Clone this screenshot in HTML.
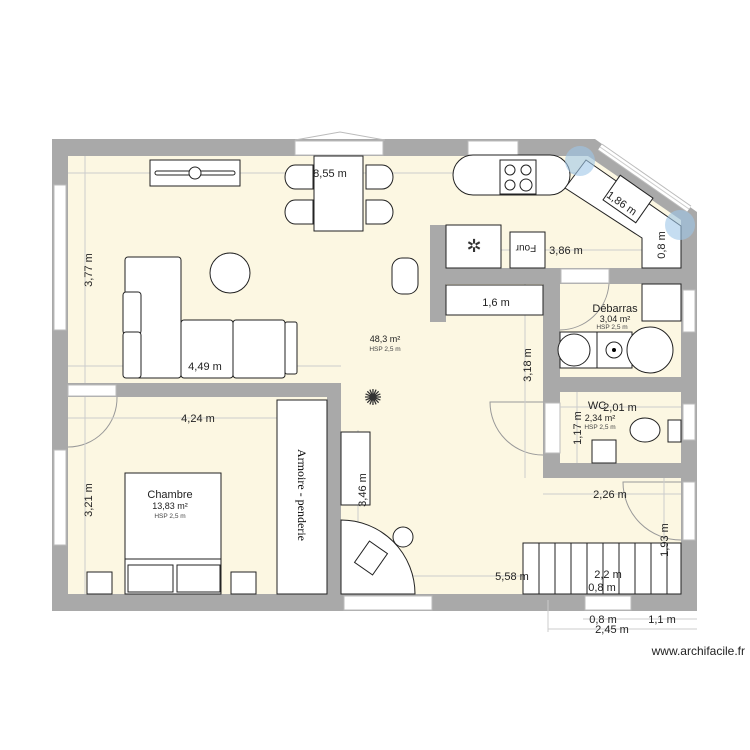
<!DOCTYPE html>
<html><head><meta charset="utf-8"><style>
body{margin:0;background:#fff;}
svg{display:block;font-family:"Liberation Sans",sans-serif;}
</style></head><body>
<svg width="750" height="750" viewBox="0 0 750 750" xmlns="http://www.w3.org/2000/svg">
<polygon points="52,139 595,139 697,212 697,611 52,611" fill="#a9a9a9"/>
<polygon points="68,156 588,156 681,220 681,594 68,594" fill="#fcf7e2"/>
<g fill="#a9a9a9">
<rect x="52" y="383" width="289" height="14"/>
<rect x="327" y="383" width="14" height="211"/>
<rect x="430" y="225" width="16" height="97"/>
<rect x="446" y="268" width="235" height="16"/>
<rect x="543" y="268" width="17" height="210"/>
<rect x="560" y="377" width="121" height="15"/>
<rect x="560" y="463" width="121" height="15"/>
</g>
<g fill="#fff" stroke="#bbb" stroke-width="1">
<rect x="295" y="141" width="88" height="14"/>
<rect x="468" y="141" width="50" height="14"/>
<rect x="54" y="185" width="12" height="145"/>
<rect x="54" y="450" width="12" height="95"/>
<rect x="68" y="385" width="48" height="11"/>
<rect x="344" y="596" width="88" height="14"/>
<rect x="585" y="596" width="46" height="14"/>
<rect x="683" y="290" width="12" height="42"/>
<rect x="683" y="404" width="12" height="36"/>
<rect x="683" y="482" width="12" height="58"/>
<rect x="561" y="269" width="48" height="14"/>
<rect x="545" y="403" width="15" height="50"/>
</g>
<polyline points="295,140 340,132 385,140" fill="none" stroke="#bbb"/>
<line x1="600" y1="147" x2="689" y2="209" stroke="#bbb" stroke-width="8"/>
<line x1="600" y1="147" x2="689" y2="209" stroke="#fff" stroke-width="6"/>
<line x1="600" y1="147" x2="689" y2="209" stroke="#ccc" stroke-width="1"/>
<g fill="none" stroke="#999" stroke-width="1">
<path d="M68,447 A49,49 0 0 0 117,397"/>
<path d="M543,455 A53,53 0 0 1 490,402 L543,402"/>
<path d="M560,330 A50,50 0 0 0 609,284"/>
<path d="M681,540 A58,58 0 0 1 623,482 L681,482"/>
</g>
<g stroke="#ccc" stroke-width="1" fill="none">
<line x1="68" y1="173" x2="588" y2="173"/>
<line x1="85" y1="156" x2="85" y2="383"/>
<line x1="68" y1="366" x2="341" y2="366"/>
<line x1="446" y1="250" x2="642" y2="250"/>
<line x1="446" y1="302" x2="543" y2="302"/>
<line x1="525" y1="284" x2="525" y2="478"/>
<line x1="68" y1="418" x2="327" y2="418"/>
<line x1="85" y1="397" x2="85" y2="594"/>
<line x1="358" y1="430" x2="358" y2="594"/>
<line x1="560" y1="407" x2="681" y2="407"/>
<line x1="577" y1="392" x2="577" y2="463"/>
<line x1="543" y1="494" x2="681" y2="494"/>
<line x1="664" y1="478" x2="664" y2="594"/>
<line x1="341" y1="576" x2="681" y2="576"/>
<line x1="583" y1="587" x2="632" y2="587"/>
<line x1="583" y1="619" x2="697" y2="619"/>
<line x1="548" y1="629" x2="697" y2="629"/>
<line x1="548" y1="600" x2="548" y2="632"/>
</g>
<g fill="#fff" stroke="#222" stroke-width="1">
<rect x="150" y="160" width="90" height="26"/>
<rect x="155" y="171" width="80" height="4" rx="2"/>
<circle cx="195" cy="173" r="6"/>
<rect x="314" y="156" width="49" height="75"/>
<path d="M313,165 L295,165 A10,12 0 0 0 295,189 L313,189 Z"/>
<path d="M313,200 L295,200 A10,12 0 0 0 295,224 L313,224 Z"/>
<path d="M366,165 L382,165 A11,12 0 0 1 382,189 L366,189 Z"/>
<path d="M366,200 L382,200 A11,12 0 0 1 382,224 L366,224 Z"/>
<rect x="125" y="257" width="56" height="121" rx="3"/>
<rect x="123" y="292" width="18" height="42" rx="3"/>
<rect x="123" y="332" width="18" height="46" rx="3"/>
<rect x="181" y="320" width="52" height="58" rx="3"/>
<rect x="233" y="320" width="52" height="58" rx="3"/>
<rect x="285" y="322" width="12" height="52" rx="2"/>
<circle cx="230" cy="273" r="20"/>
<rect x="392" y="258" width="26" height="36" rx="10"/>
<rect x="453" y="155" width="117" height="40" rx="20"/>
<rect x="500" y="160" width="36" height="34"/>
<circle cx="510" cy="170" r="5"/><circle cx="526" cy="170" r="5"/><circle cx="510" cy="185" r="5"/><circle cx="526" cy="185" r="6"/>
<polygon points="565,188 586,160 681,226 681,268 642,268 642,238"/>
<rect x="608" y="184" width="40" height="30" transform="rotate(35 628 199)"/>
<rect x="446" y="225" width="55" height="43"/>
<rect x="510" y="232" width="35" height="36"/>
<rect x="446" y="285" width="97" height="30"/>
<rect x="642" y="284" width="39" height="37"/>
<rect x="560" y="332" width="37" height="36"/>
<circle cx="574" cy="350" r="16"/>
<rect x="597" y="332" width="35" height="36"/>
<circle cx="614" cy="350" r="8"/>
<circle cx="650" cy="350" r="23"/>
<ellipse cx="645" cy="430" rx="15" ry="12"/>
<rect x="668" y="420" width="13" height="22"/>
<rect x="592" y="440" width="24" height="23"/>
<rect x="277" y="400" width="50" height="194"/>
<rect x="341" y="432" width="29" height="73"/>
<path d="M341,520 A74,74 0 0 1 415,594 L341,594 Z"/>
<circle cx="403" cy="537" r="10"/>
<rect x="360" y="545" width="22" height="26" transform="rotate(35 371 558)"/>
<rect x="125" y="473" width="96" height="121"/>
<line x1="125" y1="559" x2="221" y2="559"/>
<rect x="128" y="565" width="45" height="27"/>
<rect x="177" y="565" width="43" height="27"/>
<rect x="87" y="572" width="25" height="22"/>
<rect x="231" y="572" width="25" height="22"/>
<rect x="523" y="543" width="158" height="51"/>
</g>
<circle cx="614" cy="350" r="2" fill="#000"/>
<g stroke="#222">
<line x1="539" y1="543" x2="539" y2="594"/><line x1="555" y1="543" x2="555" y2="594"/>
<line x1="571" y1="543" x2="571" y2="594"/><line x1="587" y1="543" x2="587" y2="594"/>
<line x1="603" y1="543" x2="603" y2="594"/><line x1="619" y1="543" x2="619" y2="594"/>
<line x1="635" y1="543" x2="635" y2="594"/><line x1="651" y1="543" x2="651" y2="594"/>
<line x1="667" y1="543" x2="667" y2="594"/>
</g>
<circle cx="580" cy="161" r="15" fill="#9fc6e8" opacity="0.6"/>
<circle cx="680" cy="225" r="15" fill="#9fc6e8" opacity="0.6"/>
<text x="474" y="252" font-size="18" text-anchor="middle" fill="#333">✲</text>
<text x="373" y="405" font-size="22" text-anchor="middle" fill="#333">✺</text>
<g font-size="11" fill="#222" text-anchor="middle">
<text x="330" y="177">8,55 m</text>
<text x="205" y="370">4,49 m</text>
<text x="496" y="306">1,6 m</text>
<text x="566" y="254">3,86 m</text>
<text x="198" y="422">4,24 m</text>
<text x="610" y="498">2,26 m</text>
<text x="512" y="580">5,58 m</text>
<text x="608" y="578">2,2 m</text>
<text x="602" y="591">0,8 m</text>
<text x="603" y="623">0,8 m</text>
<text x="662" y="623">1,1 m</text>
<text x="612" y="633">2,45 m</text>
<text x="620" y="411">2,01 m</text>
<text x="597" y="409">WC</text>
<text x="526" y="253" font-size="10" transform="rotate(180 526 249)">Four</text>
<text x="615" y="312">Débarras</text>
<text x="170" y="498">Chambre</text>
<text x="88" y="274" transform="rotate(-90 88 270)">3,77 m</text>
<text x="88" y="504" transform="rotate(-90 88 500)">3,21 m</text>
<text x="527" y="369" transform="rotate(-90 527 365)">3,18 m</text>
<text x="362" y="494" transform="rotate(-90 362 490)">3,46 m</text>
<text x="664" y="544" transform="rotate(-90 664 540)">1,93 m</text>
<text x="661" y="249" transform="rotate(-90 661 245)">0,8 m</text>
<text x="577" y="432" transform="rotate(-90 577 428)">1,17 m</text>
<text x="622" y="207" transform="rotate(35 622 203)">1,86 m</text>
</g>
<g font-size="9" fill="#222" text-anchor="middle">
<text x="385" y="342">48,3 m²</text>
<text x="615" y="322">3,04 m²</text>
<text x="600" y="421">2,34 m²</text>
<text x="170" y="509">13,83 m²</text>
</g>
<g font-size="6.5" fill="#444" text-anchor="middle">
<text x="385" y="351">HSP 2,5 m</text>
<text x="612" y="329">HSP 2,5 m</text>
<text x="600" y="429">HSP 2,5 m</text>
<text x="170" y="518">HSP 2,5 m</text>
</g>
<text x="298" y="495" font-size="12" font-family="Liberation Serif,serif" text-anchor="middle" transform="rotate(90 298 495)">Armoire - penderie</text>
<text x="745" y="655" font-size="12" fill="#222" text-anchor="end">www.archifacile.fr</text>
</svg>
</body></html>
